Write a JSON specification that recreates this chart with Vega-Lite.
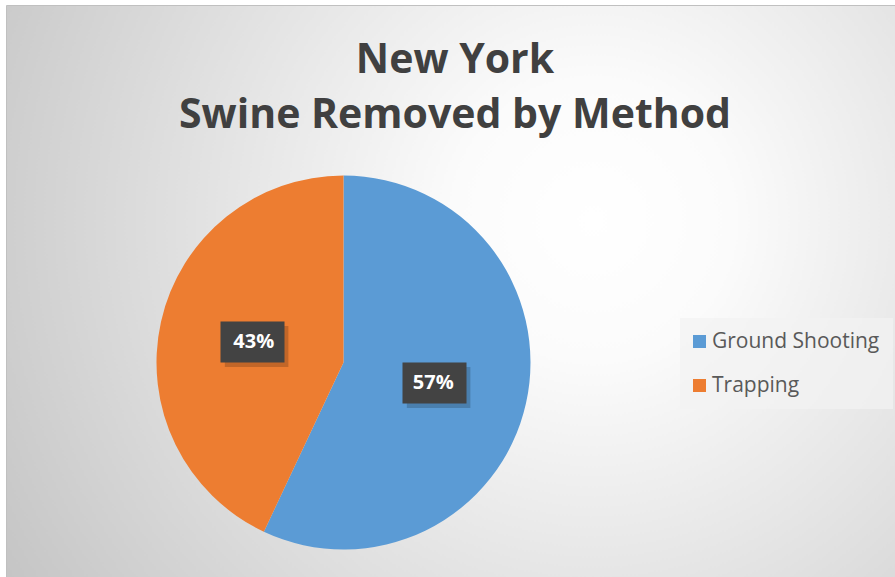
{
  "$schema": "https://vega.github.io/schema/vega-lite/v6.json",
  "width": 889,
  "height": 572,
  "autosize": {"type": "none"},
  "padding": {"left": 6, "top": 5, "right": 0, "bottom": 0},
  "background": "#ffffff",
  "config": {
    "view": {
      "fill": {"gradient": "radial", "x1": 0.66, "y1": 0.42, "r1": 0, "x2": 0.66, "y2": 0.42, "r2": 0.78,
        "stops": [{"offset": 0, "color": "#ffffff"}, {"offset": 0.2, "color": "#fbfbfb"}, {"offset": 1, "color": "#c4c4c4"}]},
      "stroke": "#c0c0c0",
      "strokeWidth": 1
    }
  },
  "title": {
    "text": ["New York", "Swine Removed by Method"],
    "font": "Open Sans",
    "fontSize": 41,
    "fontWeight": "bold",
    "color": "#404040",
    "anchor": "middle",
    "frame": "group",
    "baseline": "alphabetic",
    "offset": 0,
    "lineHeight": 55,
    "dx": 4.5,
    "dy": 164
  },
  "data": {
    "values": [
      {"method": "Ground Shooting", "share": 0.57},
      {"method": "Trapping", "share": 0.43}
    ]
  },
  "layer": [
    {
      "mark": {"type": "arc", "x": 337.5, "y": 357.5, "outerRadius": 187},
      "encoding": {
        "theta": {"field": "share", "type": "quantitative", "stack": true},
        "order": {"field": "method", "type": "nominal", "sort": "ascending"},
        "color": {
          "field": "method", "type": "nominal",
          "scale": {"domain": ["Ground Shooting", "Trapping"], "range": ["#5b9bd5", "#ed7d31"]},
          "legend": {
            "orient": "none", "legendX": 674, "legendY": 313, "title": null,
            "symbolType": "square", "symbolSize": 169, "symbolStrokeWidth": 0, "symbolOffset": -4,
            "labelFont": "Open Sans", "labelFontSize": 21, "labelColor": "#595959", "labelLimit": 400,
            "rowPadding": 22, "labelOffset": 2, "padding": 13,
            "fillColor": "rgba(242,242,242,0.7)"
          }
        }
      }
    },
    {
      "mark": {"type": "point", "shape": "M-1.35,-0.78H1.75V1.22H-1.35Z", "filled": true, "size": 1681, "fill": "#000000", "opacity": 0.18, "strokeWidth": 0},
      "encoding": {
        "x": {"field": "share", "type": "quantitative", "scale": {"domain": [0.43, 0.57], "range": [246.5, 428.5]}, "axis": null},
        "y": {"field": "share", "type": "quantitative", "scale": {"domain": [0.43, 0.57], "range": [337, 378]}, "axis": null}
      }
    },
    {
      "mark": {"type": "point", "shape": "M-1.561,-1H1.561V1H-1.561Z", "filled": true, "size": 1681, "fill": "#434343", "opacity": 1, "strokeWidth": 0},
      "encoding": {
        "x": {"field": "share", "type": "quantitative"},
        "y": {"field": "share", "type": "quantitative"}
      }
    },
    {
      "mark": {"type": "text", "x": 337.5, "y": 357.5, "radius": 92, "font": "Open Sans", "fontSize": 20, "fontWeight": "bold", "fill": "#ffffff", "baseline": "middle", "align": "center"},
      "encoding": {
        "theta": {"field": "share", "type": "quantitative", "stack": true},
        "order": {"field": "method", "type": "nominal", "sort": "ascending"},
        "text": {"field": "share", "type": "quantitative", "format": ".0%"}
      }
    }
  ]
}
